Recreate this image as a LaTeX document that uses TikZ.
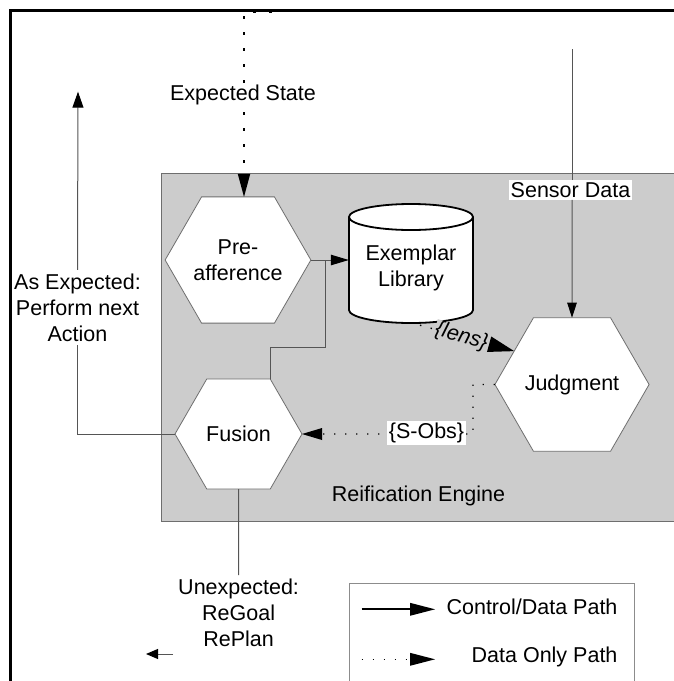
\documentclass[tikz,border=0pt]{standalone}
\usepackage{fontspec}
\setmainfont{Liberation Sans}
\usetikzlibrary{shapes.geometric,arrows.meta,calc}
\definecolor{boxgray}{RGB}{204,204,204}
\definecolor{linegray}{RGB}{85,85,85}
\definecolor{hexgray}{RGB}{110,110,110}
\definecolor{leggray}{RGB}{140,140,140}
\begin{document}
\begin{tikzpicture}[x=1pt,y=1pt,
  every node/.style={font=\fontsize{21.5}{26}\selectfont},
  hexnode/.style={regular polygon, regular polygon sides=6, draw=hexgray, fill=white,
    inner sep=0pt, outer sep=0pt, line width=0.8pt},
  conn/.style={draw=linegray, line width=1pt},
  bigdots/.style={line width=2.8pt, dash pattern=on 2.8pt off 13.2pt, black},
  smalldots/.style={line width=1.4pt, dash pattern=on 1.4pt off 9.6pt, black},
  labelbox/.style={fill=white, inner sep=2pt},
]
\useasboundingbox (0,0) rectangle (674,-681);
\fill[white] (0,0) rectangle (674,-681);

% outer frame (cut off on right and bottom)
\draw[line width=3pt] (10,-700) -- (10,-10.5) -- (700,-10.5);

% Reification engine box
\draw[fill=boxgray, draw=hexgray, line width=0.8pt] (161.7,-173.3) rectangle (700,-521.7);
\node (re) at (418.5,-495.7) {Reification Engine};

% nodes
\node[hexnode, minimum size=142pt, align=center] (pre) at (238,-260) {Pre-\\afference};
\node[hexnode, minimum size=142pt] (jud) at (572,-384.5) {Judgment};
\node[hexnode, minimum size=127pt] (fus) at (238.5,-434) {Fusion};

% exemplar library cylinder
\node[minimum width=124pt, minimum height=119pt, inner sep=0pt] (lib) at (411,-263.5) {};
\draw[line width=1.8pt, fill=white]
  (349,-217) -- (349,-310) arc[start angle=180, end angle=360, x radius=62pt, y radius=13pt]
  -- (473,-217) arc[start angle=0, end angle=180, x radius=62pt, y radius=13pt] -- cycle;
\draw[line width=1.8pt] (349,-217) arc[start angle=180, end angle=360, x radius=62pt, y radius=13pt];
\node[align=center] (libtxt) at (411,-268) {Exemplar\\Library};

% expected state (data only)
\coordinate (estop) at (272,-12);
\coordinate (escorner) at (244,-12);
\draw[bigdots, -{Triangle[length=23pt, width=12.5pt, line width=0pt, color=black]}] (estop) -- (escorner) -- (escorner |- pre.north);
\node[labelbox] (es) at (243,-95) {Expected State};

% sensor data
\coordinate (sdtop) at (572,-49);
\node[labelbox] (sd) at (570.5,-190) {Sensor Data};
\draw[conn] (sdtop) -- (sdtop |- sd.north);
\draw[conn, -{Triangle[length=15pt, width=9.5pt, color=black]}] (sdtop |- sd.south) -- (jud.north);

% pre-afference -> library
\draw[conn, -{Triangle[length=18pt, width=10.5pt, color=black]}] (pre.east) -- (pre.east -| lib.west);

% fusion -> join
\coordinate (jn) at (325,-347);
\draw[conn] (fus.60) |- (jn) -- (jn |- pre.east);

% lens
\coordinate (lensstart) at ($(lib.south)+(9,-2)$);
\draw[smalldots, -{Triangle[length=26pt, width=16pt, line width=0pt, color=black]}] (lensstart) -- (jud.150)
  node[pos=0.44, sloped, fill=boxgray, inner sep=0.5pt, font=\fontsize{21.5}{26}\selectfont\itshape] (lens) {\{lens\}};

% S-Obs
\coordinate (sc) at (473,-384.5);
\draw[smalldots, -{Triangle[length=20pt, width=12pt, line width=0pt, color=black]}] (jud.west) -- (sc) |- (fus.east);
\node[labelbox] (sobs) at (426.5,-433) {\{S-Obs\}};

% as expected
\node[align=center] (ae) at (77.5,-307.4) {As Expected:\\Perform next\\Action};
\coordinate (aetip) at (78,-91.7);
\draw[conn] (fus.west) -| (ae.south);
\draw[conn, -{Triangle[length=16pt, width=11pt, color=black]}] (ae.north) -- (aetip);

% unexpected
\node[align=center] (ue) at (238.6,-612.6) {Unexpected:\\ReGoal\\RePlan};
\draw[conn] (fus.south) -- (ue.north);
\coordinate (sa1) at (173,-654);
\coordinate (sa2) at (146,-654);
\draw[conn, -{Triangle[length=12pt, width=10pt, color=black]}] (sa1) -- (sa2);

% legend
\draw[draw=leggray, line width=1pt] (349.3,-700) -- (349.3,-583.3) -- (634,-583.3) -- (634,-700);
\coordinate (l1a) at (361.7,-609.3);
\coordinate (l1b) at (435,-609.3);
\coordinate (l2a) at (361.7,-659.3);
\coordinate (l2b) at (435,-659.3);
\draw[line width=2pt, -{Triangle[length=25pt, width=13pt, line width=0pt]}] (l1a) -- (l1b);
\draw[smalldots, -{Triangle[length=25pt, width=13pt, line width=0pt]}] (l2a) -- (l2b);
\node[anchor=east] (lt1) at (621,-606.7) {Control/Data Path};
\node[anchor=east] (lt2) at (621,-657.3) {Data Only Path};
\end{tikzpicture}
\end{document}
